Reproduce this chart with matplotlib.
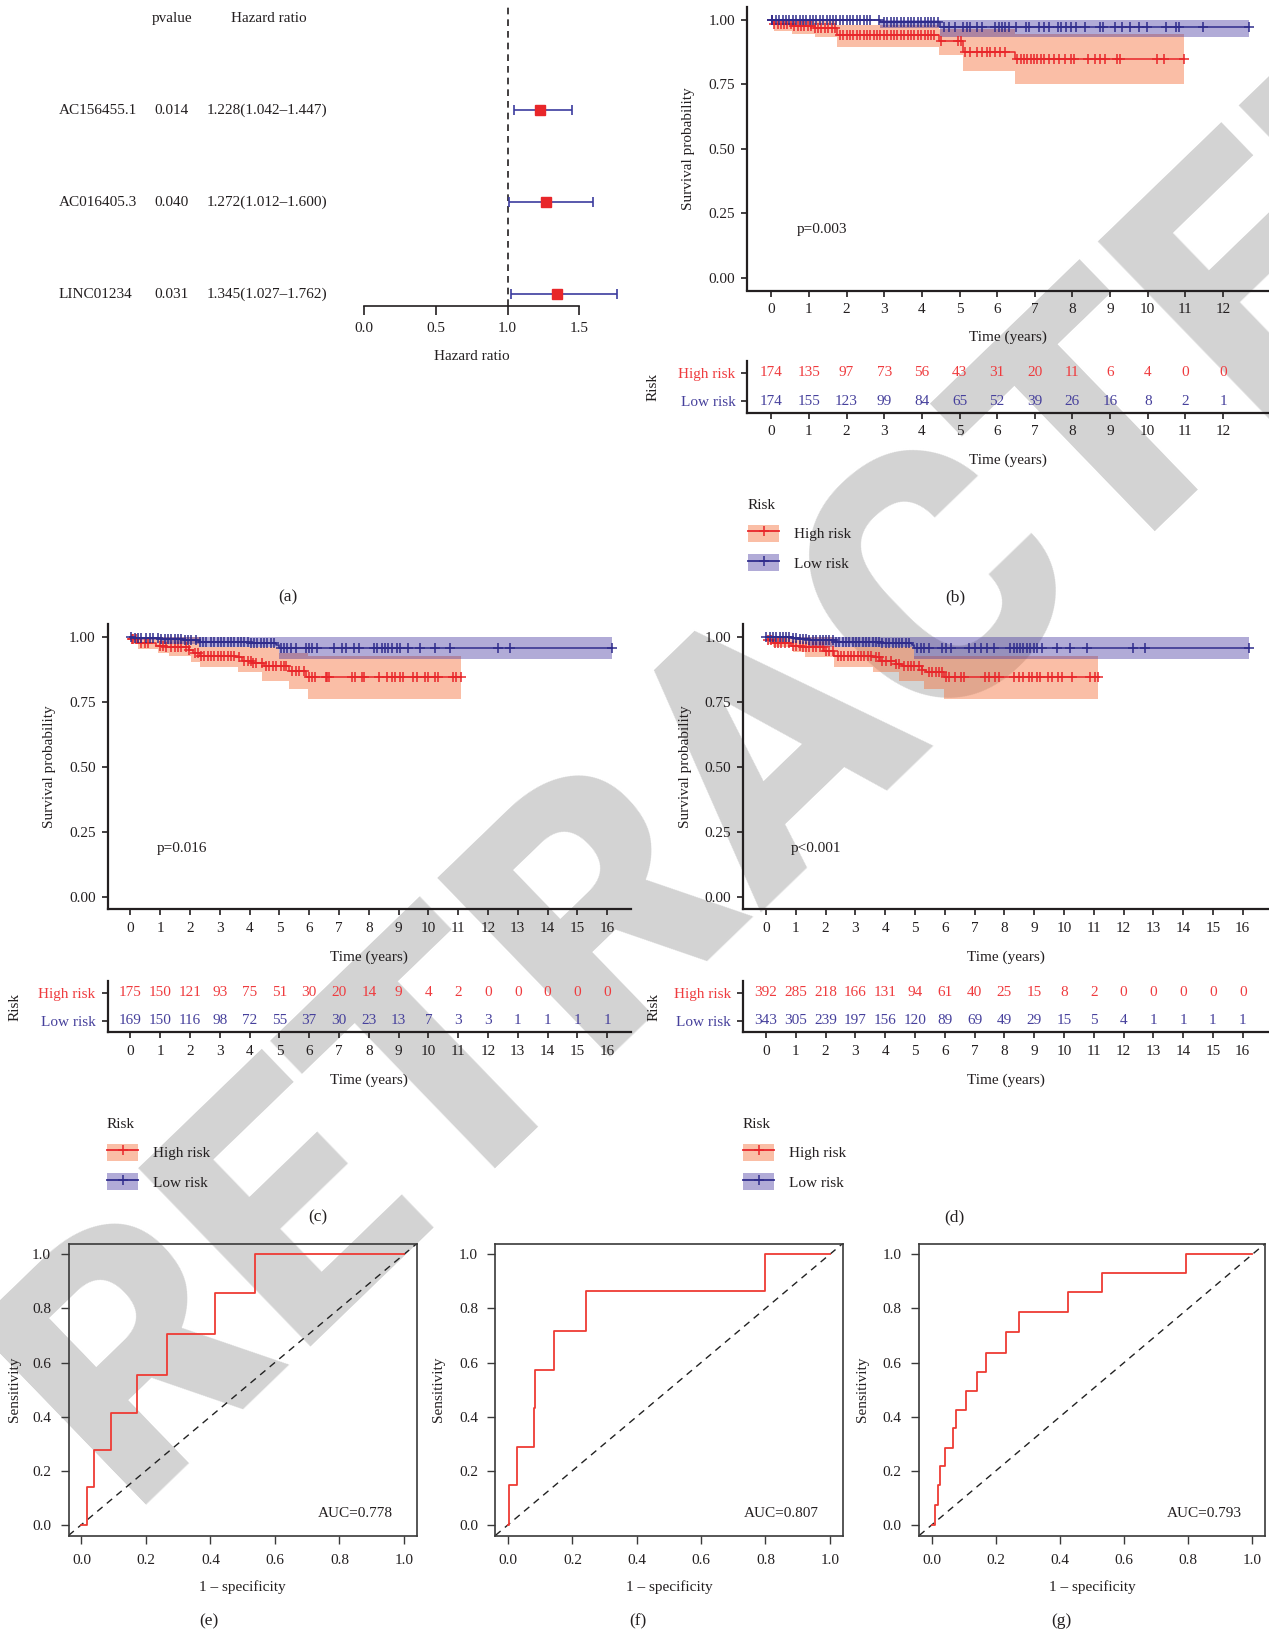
import numpy as np
import matplotlib
matplotlib.use("Agg")
import matplotlib.pyplot as plt
from matplotlib.patches import Patch
from matplotlib.lines import Line2D
from matplotlib.legend_handler import HandlerTuple
from matplotlib.transforms import blended_transform_factory

# ---------------- data ----------------
# (a) forest plot
genes = ["AC156455.1", "AC016405.3", "LINC01234"]
pvals = ["0.014", "0.040", "0.031"]
hr = np.array([1.228, 1.272, 1.345])
hr_lo = np.array([1.042, 1.012, 1.027])
hr_hi = np.array([1.447, 1.600, 1.762])

# (b) KM, training set
b_high_t = [0, 0.08, 0.55, 1.15, 1.75, 4.45, 5.10, 6.47, 10.97]
b_high_s = [1.0, 0.985, 0.977, 0.968, 0.942, 0.918, 0.876, 0.847, 0.847]
b_high_lo = [1.0, 0.955, 0.945, 0.935, 0.895, 0.865, 0.800, 0.752, 0.752]
b_high_up = [1.0, 1.0, 1.0, 1.0, 0.980, 0.965, 0.965, 0.945, 0.945]
b_low_t = [0, 2.90, 4.47, 12.68]
b_low_s = [1.0, 0.990, 0.972, 0.972]
b_low_lo = [1.0, 0.970, 0.935, 0.935]
b_low_up = [1.0, 1.0, 1.0, 1.0]
b_high_cens = [0.02, 0.08, 0.17, 0.25, 0.34, 0.43, 0.52, 0.61, 0.70, 0.79, 0.88, 0.97,
               1.06, 1.15, 1.24, 1.33, 1.42, 1.51, 1.60, 1.69, 1.82, 1.91, 2.00, 2.09,
               2.18, 2.27, 2.36, 2.45, 2.54, 2.63, 2.72, 2.81, 2.90, 2.99, 3.08, 3.17,
               3.26, 3.35, 3.44, 3.53, 3.62, 3.71, 3.80, 3.89, 3.98, 4.07, 4.15, 4.24,
               4.33, 4.51, 4.96, 5.05, 5.14, 5.28, 5.46, 5.59, 5.73, 5.82, 5.95, 6.08,
               6.22, 6.53, 6.62, 6.71, 6.80, 6.89, 6.98, 7.07, 7.16, 7.24, 7.38, 7.51,
               7.65, 7.79, 7.96, 8.05, 8.41, 8.59, 8.73, 8.86, 9.17, 9.27, 10.25, 10.43, 10.97]
b_low_cens = [0.01, 0.03, 0.12, 0.21, 0.30, 0.39, 0.48, 0.57, 0.66, 0.75, 0.84, 0.93,
              1.02, 1.11, 1.20, 1.29, 1.38, 1.47, 1.56, 1.64, 1.73, 1.82, 1.91, 2.00,
              2.09, 2.18, 2.27, 2.36, 2.45, 2.54, 2.63, 2.86, 2.99, 3.08, 3.17, 3.26,
              3.35, 3.44, 3.53, 3.62, 3.71, 3.80, 3.89, 3.98, 4.07, 4.15, 4.24, 4.33,
              4.42, 4.60, 4.71, 4.88, 5.10, 5.19, 5.28, 5.46, 5.59, 5.95, 6.04, 6.13,
              6.22, 6.31, 6.49, 6.77, 6.85, 7.12, 7.25, 7.38, 7.61, 7.70, 7.83, 7.96,
              8.10, 8.33, 8.73, 8.82, 9.13, 9.31, 9.54, 9.76, 9.99, 10.48, 10.75, 10.84,
              11.47, 12.68]
b_years = list(range(0, 13))
b_risk_high = [174, 135, 97, 73, 56, 43, 31, 20, 11, 6, 4, 0, 0]
b_risk_low = [174, 155, 123, 99, 84, 65, 52, 39, 26, 16, 8, 2, 1]

# (c) KM, test set
c_high_t = [0, 0.03, 0.26, 0.87, 1.20, 1.98, 2.09, 2.32, 3.54, 3.76, 4.10, 4.49, 5.32, 5.88, 11.11]
c_high_s = [1.0, 0.991, 0.974, 0.963, 0.959, 0.949, 0.936, 0.927, 0.920, 0.908, 0.897,
            0.888, 0.869, 0.844, 0.844]
c_high_ci_t = [0, 0.03, 0.26, 0.92, 1.31, 2.04, 2.32, 3.60, 4.43, 5.00, 5.32, 5.96, 11.11]
c_high_lo = [1.0, 0.970, 0.953, 0.936, 0.924, 0.904, 0.882, 0.865, 0.831, 0.831, 0.799, 0.758, 0.758]
c_high_up = [1.0, 1.0, 1.0, 1.0, 1.0, 1.0, 0.959, 0.959, 0.959, 0.937, 0.937, 0.927, 0.927]
c_low_t = [0, 0.10, 0.98, 1.76, 2.32, 3.99, 4.90, 4.99, 16.15]
c_low_s = [1.0, 0.995, 0.991, 0.985, 0.978, 0.974, 0.969, 0.955, 0.955]
c_low_ci_t = [0, 0.10, 0.98, 2.32, 4.99, 16.15]
c_low_lo = [1.0, 0.985, 0.972, 0.959, 0.914, 0.914]
c_low_up = [1.0, 1.0, 1.0, 1.0, 1.0, 1.0]
c_high_cens = [0.05, 0.10, 0.20, 0.35, 0.50, 0.60, 1.00, 1.10, 1.20, 1.37, 1.48, 1.60,
               1.70, 1.87, 1.98, 2.15, 2.26, 2.37, 2.48, 2.60, 2.70, 2.82, 2.93, 3.04,
               3.15, 3.26, 3.37, 3.48, 3.65, 3.82, 3.93, 4.04, 4.10, 4.21, 4.43, 4.54,
               4.65, 4.77, 4.88, 5.04, 5.15, 5.21, 5.43, 5.55, 5.66, 5.82, 5.99, 6.10,
               6.21, 6.55, 6.60, 6.66, 7.44, 7.55, 7.77, 7.83, 8.33, 8.61, 8.77, 8.89,
               9.05, 9.16, 9.50, 9.61, 9.89, 10.00, 10.22, 10.33, 10.83, 10.94, 11.11]
c_low_cens = [0.03, 0.15, 0.26, 0.37, 0.53, 0.65, 0.76, 0.92, 1.04, 1.15, 1.26, 1.37,
              1.48, 1.59, 1.70, 1.82, 1.93, 2.04, 2.20, 2.32, 2.43, 2.54, 2.71, 2.82,
              2.93, 3.04, 3.15, 3.27, 3.38, 3.49, 3.60, 3.71, 3.82, 3.93, 4.04, 4.15,
              4.26, 4.38, 4.49, 4.60, 4.71, 4.82, 5.05, 5.16, 5.27, 5.38, 5.55, 5.88,
              5.99, 6.10, 6.27, 6.83, 7.10, 7.22, 7.49, 7.66, 8.16, 8.27, 8.44, 8.55,
              8.66, 8.78, 8.94, 9.05, 9.33, 9.72, 10.22, 10.73, 12.34, 12.73, 16.15]
cd_years = list(range(0, 17))
c_risk_high = [175, 150, 121, 93, 75, 51, 30, 20, 14, 9, 4, 2, 0, 0, 0, 0, 0]
c_risk_low = [169, 150, 116, 98, 72, 55, 37, 30, 23, 13, 7, 3, 3, 1, 1, 1, 1]

# (d) KM, entire set
d_high_t = [0, 0.07, 0.24, 0.85, 1.24, 1.96, 2.30, 3.60, 3.82, 4.36, 4.58, 5.25, 5.36, 5.97, 11.15]
d_high_s = [1.0, 0.985, 0.974, 0.965, 0.959, 0.944, 0.927, 0.920, 0.908, 0.895, 0.888,
            0.872, 0.863, 0.844, 0.844]
d_high_ci_t = [0, 0.07, 0.24, 0.90, 1.30, 2.30, 3.60, 4.47, 4.97, 5.30, 5.97, 11.15]
d_high_lo = [1.0, 0.970, 0.959, 0.940, 0.920, 0.882, 0.863, 0.831, 0.831, 0.799, 0.758, 0.758]
d_high_up = [1.0, 1.0, 1.0, 1.0, 1.0, 0.959, 0.959, 0.959, 0.927, 0.927, 0.927, 0.927]
d_low_t = [0, 0.90, 1.13, 1.46, 2.35, 3.91, 4.90, 4.97, 16.2]
d_low_s = [1.0, 0.995, 0.991, 0.985, 0.978, 0.974, 0.969, 0.955, 0.955]
d_low_ci_t = [0, 0.90, 1.46, 4.97, 16.2]
d_low_lo = [1.0, 0.985, 0.959, 0.914, 0.914]
d_low_up = [1.0, 1.0, 1.0, 1.0, 1.0]
d_high_cens = [0.07, 0.18, 0.29, 0.40, 0.51, 0.63, 0.79, 0.90, 1.02, 1.13, 1.24, 1.35,
               1.46, 1.57, 1.68, 1.80, 1.91, 2.02, 2.13, 2.24, 2.41, 2.52, 2.63, 2.74,
               2.86, 2.97, 3.08, 3.19, 3.30, 3.41, 3.52, 3.69, 3.80, 3.91, 4.02, 4.19,
               4.36, 4.47, 4.64, 4.75, 4.86, 4.97, 5.14, 5.25, 5.47, 5.58, 5.70, 5.81,
               5.92, 6.03, 6.14, 6.36, 6.53, 6.65, 7.36, 7.48, 7.70, 7.81, 8.31, 8.48,
               8.64, 8.81, 8.92, 9.09, 9.20, 9.48, 9.59, 9.81, 9.93, 10.26, 10.87, 11.04, 11.15]
d_low_cens = [0.01, 0.12, 0.24, 0.35, 0.46, 0.57, 0.68, 0.79, 0.90, 1.02, 1.13, 1.24,
              1.35, 1.46, 1.57, 1.68, 1.80, 1.91, 2.02, 2.13, 2.24, 2.35, 2.46, 2.57,
              2.69, 2.80, 2.91, 3.02, 3.13, 3.24, 3.35, 3.47, 3.58, 3.69, 3.80, 3.91,
              4.02, 4.13, 4.25, 4.36, 4.47, 4.58, 4.69, 4.80, 5.08, 5.19, 5.30, 5.47,
              5.92, 6.03, 6.20, 6.81, 7.03, 7.20, 7.42, 7.64, 8.20, 8.31, 8.42, 8.53,
              8.64, 8.76, 8.87, 8.98, 9.09, 9.26, 9.76, 10.20, 10.76, 12.32, 12.71, 16.2]
d_risk_high = [392, 285, 218, 166, 131, 94, 61, 40, 25, 15, 8, 2, 0, 0, 0, 0, 0]
d_risk_low = [343, 305, 239, 197, 156, 120, 89, 69, 49, 29, 15, 5, 4, 1, 1, 1, 1]

# (e)-(g) ROC step points (1 - specificity, sensitivity)
e_fpr = [0, 0.017, 0.039, 0.092, 0.171, 0.265, 0.414, 0.537, 1.0]
e_tpr = [0, 0.138, 0.276, 0.415, 0.555, 0.705, 0.859, 1.0, 1.0]
f_fpr = [0, 0.003, 0.026, 0.079, 0.085, 0.142, 0.242, 0.799, 1.0]
f_tpr = [0, 0.147, 0.289, 0.431, 0.571, 0.716, 0.864, 1.0, 1.0]
g_fpr = [0, 0.008, 0.018, 0.024, 0.039, 0.065, 0.075, 0.106, 0.140, 0.170, 0.231,
         0.272, 0.425, 0.532, 0.794, 1.0]
g_tpr = [0, 0.074, 0.145, 0.216, 0.284, 0.356, 0.425, 0.496, 0.566, 0.637, 0.713,
         0.787, 0.862, 0.932, 1.0, 1.0]
auc_labels = ["AUC=0.778", "AUC=0.807", "AUC=0.793"]

# ---------------- style ----------------
W, H = 1269, 1636
INK = "#231F20"
RED = "#E8262A"
BLUE = "#2F2C8C"
RED_TXT = "#EF3B3E"
BLUE_TXT = "#46409C"
RED_FILL = "#F4703A"
BLUE_FILL = "#3E2F9B"
ROC_RED = "#EE3B34"
FS = 11

plt.rcParams["font.family"] = ["Liberation Serif", "DejaVu Serif"]
plt.rcParams["font.size"] = FS
plt.rcParams["text.color"] = INK
plt.rcParams["axes.labelcolor"] = INK
plt.rcParams["xtick.color"] = INK
plt.rcParams["ytick.color"] = INK
plt.rcParams["axes.edgecolor"] = INK

fig = plt.figure(figsize=(W / 100, H / 100), dpi=100)


def rect(x0, y0, x1, y1):
    # pixel box (top-left origin) -> figure fraction
    return [x0 / W, 1 - y1 / H, (x1 - x0) / W, (y1 - y0) / H]


def ftext(x, y, s, **kw):
    kw.setdefault("ha", "center")
    kw.setdefault("va", "center")
    return fig.text(x / W, 1 - y / H, s, **kw)


def step_at(t, s, c):
    idx = np.searchsorted(t, c, side="right") - 1
    return np.asarray(s)[np.clip(idx, 0, len(s) - 1)]


# watermark behind everything (baseline starts at bottom-left)
ftext(128, 1505, "RETRACTED", rotation=44, rotation_mode="anchor", ha="left",
      va="baseline", fontsize=252, color="#D3D3D3", family=["Roboto", "DejaVu Sans"],
      weight="heavy", zorder=-10)

# ---------------- (a) forest ----------------
axf = fig.add_axes(rect(364.2, 7, 364.2 + 1.8 * 143.3, 306))
axf.patch.set_visible(False)
rows = np.arange(len(genes))
axf.set_xlim(0, 1.8)
axf.set_ylim(2.13, -1.12)
axf.axvline(1.0, color=INK, lw=1.2, ls=(0, (4, 3)))
axf.errorbar(hr, rows, xerr=[hr - hr_lo, hr_hi - hr], fmt="none", ecolor="#3C3C9E",
             elinewidth=1.2, capsize=3.6, capthick=1.2)
axf.plot(hr, rows, "s", color=RED, ms=6.8, zorder=3)
for sp in ["left", "top", "right"]:
    axf.spines[sp].set_visible(False)
axf.spines["bottom"].set_bounds(0, 1.5)
axf.spines["bottom"].set_linewidth(1.2)
axf.set_xticks([0, 0.5, 1.0, 1.5])
axf.set_xticklabels(["0.0", "0.5", "1.0", "1.5"])
axf.set_yticks([])
axf.tick_params(axis="x", length=6.5, width=1.2, pad=5)
tr = blended_transform_factory(fig.transFigure, axf.transData)
axf.text(172 / W, -1, "pvalue", transform=tr, ha="center", va="center")
axf.text(269 / W, -1, "Hazard ratio", transform=tr, ha="center", va="center")
for i in rows:
    axf.text(58.4 / W, i, genes[i], transform=tr, ha="left", va="center")
    axf.text(154.5 / W, i, pvals[i], transform=tr, ha="left", va="center")
    axf.text(206.6 / W, i, f"{hr[i]:.3f}({hr_lo[i]:.3f}\u2013{hr_hi[i]:.3f})",
             transform=tr, ha="left", va="center")
ftext(471.7, 357, "Hazard ratio")
ftext(288, 597, "(a)", fontsize=12.5)


# ---------------- KM helpers ----------------
def km_axes(box, xlim, ticks):
    ax = fig.add_axes(rect(*box))
    ax.patch.set_visible(False)
    ax.set_xlim(*xlim)
    ax.set_ylim(-0.05, 1.05)
    ax.set_xticks(ticks)
    ax.set_yticks([0, 0.25, 0.5, 0.75, 1.0])
    ax.set_yticklabels(["0.00", "0.25", "0.50", "0.75", "1.00"])
    for sp in ["top", "right"]:
        ax.spines[sp].set_visible(False)
    for sp in ["left", "bottom"]:
        ax.spines[sp].set_linewidth(1.6)
    ax.tick_params(length=4, width=1.2)
    ax.tick_params(axis="y", pad=4.5)
    ax.tick_params(axis="x", pad=5)
    return ax


def km_group_fill(ax, ci_t, lo, up, col, alpha):
    ax.fill_between(ci_t, lo, up, step="post", color=col, alpha=alpha, lw=0)


def km_group_line(ax, t, s, cens, col):
    ax.step(t, s, where="post", color=col, lw=1.1)
    ax.plot(cens, step_at(t, s, cens), ls="none", marker="+", ms=7, mew=1.1, color=col)


def risk_table(box, xlim, years, high, low):
    ax = fig.add_axes(rect(*box))
    ax.patch.set_visible(False)
    ax.set_xlim(*xlim)
    ax.set_ylim(-0.4, 1.42)
    for x, n in zip(years, high):
        ax.text(x, 1, str(n), color=RED_TXT, ha="center", va="center")
    for x, n in zip(years, low):
        ax.text(x, 0, str(n), color=BLUE_TXT, ha="center", va="center")
    ax.set_yticks([0, 1])
    ax.set_yticklabels(["Low risk", "High risk"])
    ax.get_yticklabels()[0].set_color(BLUE_TXT)
    ax.get_yticklabels()[1].set_color(RED_TXT)
    ax.set_xticks(years)
    for sp in ["top", "right"]:
        ax.spines[sp].set_visible(False)
    for sp in ["left", "bottom"]:
        ax.spines[sp].set_linewidth(1.6)
    ax.tick_params(length=4, width=1.2)
    ax.tick_params(axis="y", pad=4.5)
    ax.tick_params(axis="x", pad=5)
    return ax


def km_legend(x, y):
    h1 = (Patch(facecolor=RED_FILL, alpha=0.45, lw=0),
          Line2D([], [], color=RED, lw=1.3, marker="+", ms=7, mew=1.1))
    h2 = (Patch(facecolor=BLUE_FILL, alpha=0.4, lw=0),
          Line2D([], [], color=BLUE, lw=1.3, marker="+", ms=7, mew=1.1))
    fig.legend([h1, h2], ["High risk", "Low risk"], title="Risk",
               loc="upper left", bbox_to_anchor=(x / W, 1 - y / H), frameon=False,
               handlelength=2.05, handleheight=1.35, labelspacing=0.82,
               handletextpad=0.95, borderpad=0, borderaxespad=0, alignment="left",
               title_fontsize=FS, handler_map={tuple: HandlerTuple(ndivide=1)})


def km_panel(ax_box, tab_box, xlim, years, high_curve, low_curve, ptxt, px,
             risk_high, risk_low, ylab_x, risk_lab_x, xlab_y, tab_xlab_y, leg_xy, letter):
    ax = km_axes(ax_box, xlim, years)
    km_group_fill(ax, *high_curve[2], RED_FILL, 0.45)
    km_group_fill(ax, *low_curve[2], BLUE_FILL, 0.4)
    km_group_line(ax, high_curve[0], high_curve[1], high_curve[3], RED)
    km_group_line(ax, low_curve[0], low_curve[1], low_curve[3], BLUE)
    ax.text(px, 0.185, ptxt, ha="left", va="center")
    tab = risk_table(tab_box, xlim, years, risk_high, risk_low)
    xc = (ax_box[0] + ax_box[2]) / 2
    ftext(ylab_x, (ax_box[1] + ax_box[3]) / 2, "Survival probability", rotation=90)
    ftext(xc, xlab_y, "Time (years)")
    ftext(xc, tab_xlab_y, "Time (years)")
    ftext(risk_lab_x, (tab_box[1] + tab_box[3]) / 2, "Risk", rotation=90)
    km_legend(*leg_xy)
    ftext(letter[0], letter[1], letter[2], fontsize=12.5)
    return ax, tab


# (b)
km_panel((747.2, 6.9, 1269, 290.5), (747.2, 361.0, 1269, 412.9), (-0.64, 13.22), b_years,
         (b_high_t, b_high_s, (b_high_t, b_high_lo, b_high_up), b_high_cens),
         (b_low_t, b_low_s, (b_low_t, b_low_lo, b_low_up), b_low_cens),
         "p=0.003", 0.67, b_risk_high, b_risk_low,
         688.8, 653, 337, 460, (748, 499), (955, 597, "(b)"))

# (c)
km_panel((107.5, 623.6, 631, 909.5), (107.5, 981.2, 631, 1032.2), (-0.77, 16.8), cd_years,
         (c_high_t, c_high_s, (c_high_ci_t, c_high_lo, c_high_up), c_high_cens),
         (c_low_t, c_low_s, (c_low_ci_t, c_low_lo, c_low_up), c_low_cens),
         "p=0.016", 0.87, c_risk_high, c_risk_low,
         50, 14.6, 957, 1080, (107, 1118), (318, 1217, "(c)"))

# (d)
km_panel((743, 623.6, 1269, 909.5), (743, 981.2, 1269, 1032.2), (-0.77, 16.88), cd_years,
         (d_high_t, d_high_s, (d_high_ci_t, d_high_lo, d_high_up), d_high_cens),
         (d_low_t, d_low_s, (d_low_ci_t, d_low_lo, d_low_up), d_low_cens),
         "p<0.001", 0.84, d_risk_high, d_risk_low,
         685.6, 654, 957, 1080, (743, 1118), (954, 1217, "(d)"))


# ---------------- ROC ----------------
def roc_panel(box, fpr, tpr, auc_txt, ylab_x, letter):
    ax = fig.add_axes(rect(*box))
    ax.patch.set_visible(False)
    ax.set_xlim(-0.04, 1.04)
    ax.set_ylim(-0.04, 1.04)
    ax.plot([-0.04, 1.04], [-0.04, 1.04], color="#222222", lw=1.0, ls=(0, (5, 4)))
    ax.step(fpr, tpr, where="post", color=ROC_RED, lw=1.3)
    ax.text(0.85, 0.04, auc_txt, ha="center", va="center")
    ticks = [0, 0.2, 0.4, 0.6, 0.8, 1.0]
    lbls = ["0.0", "0.2", "0.4", "0.6", "0.8", "1.0"]
    ax.set_xticks(ticks)
    ax.set_xticklabels(lbls)
    ax.set_yticks(ticks)
    ax.set_yticklabels(lbls)
    for sp in ax.spines.values():
        sp.set_linewidth(1.2)
        sp.set_color("#3A3A3A")
    ax.tick_params(length=6, width=1.0, color="#3A3A3A")
    ax.tick_params(axis="y", pad=6.5)
    ax.tick_params(axis="x", pad=7.5)
    xc = (box[0] + box[2]) / 2
    ftext(ylab_x, (box[1] + box[3]) / 2, "Sensitivity", rotation=90)
    ftext(xc, 1587, "1 \u2013 specificity")
    ftext(letter[0], 1621, letter[1], fontsize=12.5)
    return ax


roc_panel((68.5, 1243.6, 416.8, 1535.5), e_fpr, e_tpr, auc_labels[0], 14.6, (209, "(e)"))
roc_panel((495.3, 1243.6, 842.6, 1535.5), f_fpr, f_tpr, auc_labels[1], 438.5, (638, "(f)"))
roc_panel((919.2, 1243.6, 1265.1, 1535.5), g_fpr, g_tpr, auc_labels[2], 863, (1061, "(g)"))

fig.savefig("out.png", dpi=100, facecolor="white")
